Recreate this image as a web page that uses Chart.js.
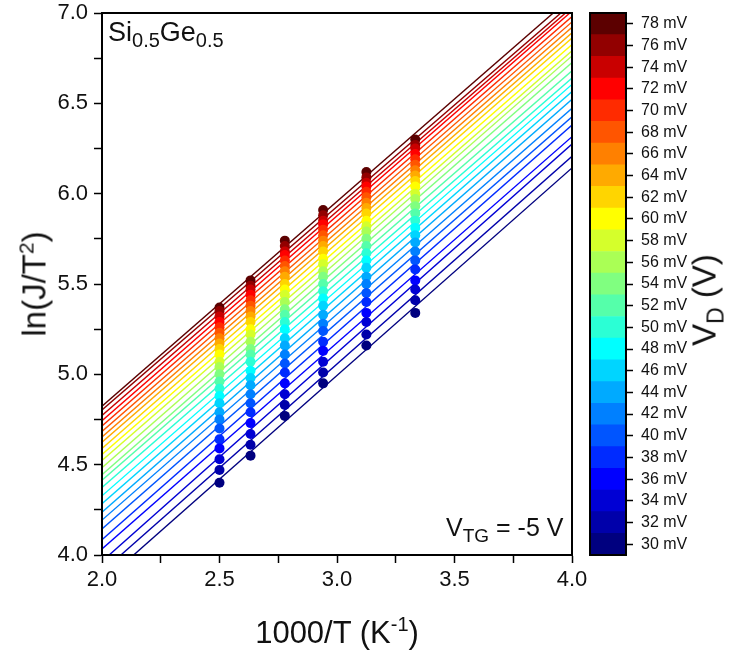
<!DOCTYPE html>
<html>
<head>
<meta charset="utf-8">
<title>ln(J/T2) vs 1000/T</title>
<script src="https://cdn.jsdelivr.net/npm/chart.js@4.4.1/dist/chart.umd.min.js"></script>
<style>
  html, body { margin: 0; padding: 0; background: #fff; }
  #wrap { position: relative; width: 741px; height: 655px; overflow: hidden;
          font-family: "Liberation Sans", Arial, sans-serif; color: #111; }
  #main { position: absolute; left: 0; top: 0; }
  #cbar { position: absolute; left: 580px; top: 0; }
  .txt { position: absolute; white-space: nowrap; line-height: 1; }
  .rot { transform: translate(-50%, -50%) rotate(-90deg); }
  .ctr { transform: translate(-50%, -50%); }
  sub, sup { line-height: 0; }
</style>
</head>
<body>
<div id="wrap">
  <canvas id="main" width="741" height="655"></canvas>
  <canvas id="cbar" width="161" height="655"></canvas>

  <div class="txt" style="left:108px; top:19px; font-size:27px;">Si<sub style="font-size:20px;">0.5</sub>Ge<sub style="font-size:20px;">0.5</sub></div>
  <div class="txt" style="left:446px; top:515px; font-size:25px;">V<sub style="font-size:19px;">TG</sub> = -5 V</div>
  <div class="txt rot" style="left:34px; top:284px; font-size:33px;">ln(J/T<sup style="font-size:21px;">2</sup>)</div>
  <div class="txt ctr" style="left:337px; top:632px; font-size:31px;">1000/T (K<sup style="font-size:20px;">-1</sup>)</div>
  <div class="txt rot" style="left:704px; top:300px; font-size:33px;">V<sub style="font-size:23px;">D</sub> (V)</div>
</div>

<script>
/* drain bias levels (mV), one line + one marker per temperature each */
const vdLevels = [30, 32, 34, 36, 38, 40, 42, 44, 46, 48, 50, 52, 54,
                  56, 58, 60, 62, 64, 66, 68, 70, 72, 74, 76, 78];

/* 1000/T for T = 400, 380, 360, 340, 320, 300 K */
const invT = [2.5, 2.632, 2.778, 2.941, 3.125, 3.333];

/* ln(J/T^2), ordered like vdLevels */
const lnJ400 = [4.40, 4.47, 4.53, 4.59, 4.64, 4.70, 4.75, 4.79, 4.84, 4.88, 4.92, 4.96, 5.00,
                5.04, 5.07, 5.11, 5.14, 5.17, 5.20, 5.23, 5.26, 5.29, 5.32, 5.35, 5.37];
const lnJ380 = [4.55, 4.61, 4.67, 4.73, 4.79, 4.84, 4.89, 4.94, 4.98, 5.02, 5.07, 5.11, 5.14,
                5.18, 5.22, 5.25, 5.29, 5.32, 5.35, 5.38, 5.41, 5.44, 5.47, 5.49, 5.52];
const lnJ360 = [4.77, 4.83, 4.89, 4.95, 5.01, 5.06, 5.11, 5.16, 5.20, 5.25, 5.29, 5.33, 5.36,
                5.40, 5.44, 5.47, 5.50, 5.54, 5.57, 5.60, 5.63, 5.66, 5.68, 5.71, 5.74];
const lnJ340 = [4.95, 5.01, 5.07, 5.13, 5.18, 5.24, 5.28, 5.33, 5.38, 5.42, 5.46, 5.50, 5.54,
                5.57, 5.61, 5.64, 5.68, 5.71, 5.74, 5.77, 5.80, 5.83, 5.85, 5.88, 5.91];
const lnJ320 = [5.16, 5.22, 5.29, 5.34, 5.40, 5.45, 5.50, 5.54, 5.59, 5.63, 5.67, 5.71, 5.75,
                5.79, 5.82, 5.85, 5.89, 5.92, 5.95, 5.98, 6.01, 6.04, 6.06, 6.09, 6.12];
const lnJ300 = [5.34, 5.41, 5.47, 5.52, 5.58, 5.63, 5.68, 5.73, 5.77, 5.81, 5.85, 5.89, 5.93,
                5.97, 6.00, 6.04, 6.07, 6.10, 6.13, 6.16, 6.19, 6.22, 6.25, 6.27, 6.30];

const columns = [lnJ400, lnJ380, lnJ360, lnJ340, lnJ320, lnJ300];

const FONT = "'Liberation Sans', Arial, sans-serif";
const INK = "#111";

/* jet-style colour per level index */
function jet(i) {
  var stops = [
    [0, [0, 0, 127]], [3, [0, 0, 255]], [9, [0, 255, 255]],
    [15, [255, 255, 0]], [21, [255, 0, 0]], [24, [92, 0, 0]]
  ];
  for (var s = 0; s < stops.length - 1; s++) {
    var a = stops[s], b = stops[s + 1];
    if (i >= a[0] && i <= b[0]) {
      var t = (i - a[0]) / (b[0] - a[0]);
      var c = a[1].map(function (v, k) { return Math.round(v + (b[1][k] - v) * t); });
      return "rgb(" + c.join(",") + ")";
    }
  }
  return "rgb(0,0,127)";
}

/* least-squares straight line through one bias level */
function fitLine(ys) {
  var n = invT.length, mx = 0, my = 0, sxy = 0, sxx = 0;
  for (var k = 0; k < n; k++) { mx += invT[k] / n; my += ys[k] / n; }
  for (k = 0; k < n; k++) {
    sxy += (invT[k] - mx) * (ys[k] - my);
    sxx += (invT[k] - mx) * (invT[k] - mx);
  }
  var m = sxy / sxx;
  return function (x) { return my + m * (x - mx); };
}

/* box round the plot area */
const frame = {
  id: "frame",
  afterDatasetsDraw: function (chart) {
    var a = chart.chartArea, ctx = chart.ctx;
    ctx.save();
    ctx.strokeStyle = "#000";
    ctx.lineWidth = 2;
    ctx.strokeRect(a.left, a.top, a.right - a.left, a.bottom - a.top);
    ctx.restore();
  }
};

/* keep the plot box where the padding puts it */
function noOverhangX(s) { s.height = 100; s.paddingLeft = 0; s.paddingRight = 0; }
function noOverhangY(w) {
  return function (s) { s.width = w; s.paddingTop = 0; s.paddingBottom = 0; };
}

/* ── main plot ──────────────────────────────────────────────── */
var pointSets = vdLevels.map(function (v, i) {
  return {
    type: "scatter",
    label: v + " mV",
    data: invT.map(function (x, k) { return { x: x, y: columns[k][i] }; }),
    backgroundColor: jet(i),
    borderColor: jet(i),
    borderWidth: 0,
    pointRadius: 5,
    order: 0
  };
});

var lineSets = vdLevels.map(function (v, i) {
  var f = fitLine(columns.map(function (col) { return col[i]; }));
  return {
    type: "line",
    label: v + " mV fit",
    data: [{ x: 2.0, y: f(2.0) }, { x: 4.0, y: f(4.0) }],
    borderColor: jet(i),
    borderWidth: 1.4,
    pointRadius: 0,
    fill: false,
    order: 1
  };
});

function halfStep(v) {
  return Math.abs(v * 2 - Math.round(v * 2)) < 1e-6 ? v.toFixed(1) : "";
}

new Chart(document.getElementById("main"), {
  type: "scatter",
  data: { datasets: pointSets.concat(lineSets) },
  options: {
    responsive: false,
    animation: false,
    events: [],
    layout: { padding: { left: 0, top: 13, right: 169, bottom: 0 } },
    plugins: { legend: { display: false }, tooltip: { enabled: false } },
    scales: {
      x: {
        type: "linear", min: 2, max: 4,
        ticks: {
          stepSize: 0.25, autoSkip: false, maxRotation: 0,
          color: INK, font: { family: FONT, size: 22 }, padding: 4,
          callback: halfStep
        },
        grid: { drawOnChartArea: false, tickLength: 8, tickWidth: 1.5, tickColor: "#000" },
        border: { color: "#000", width: 2 },
        afterFit: noOverhangX
      },
      y: {
        type: "linear", min: 4, max: 7,
        ticks: {
          stepSize: 0.25, autoSkip: false,
          color: INK, font: { family: FONT, size: 22 }, padding: 6,
          callback: halfStep
        },
        grid: { drawOnChartArea: false, tickLength: 8, tickWidth: 1.5, tickColor: "#000" },
        border: { color: "#000", width: 2 },
        afterFit: noOverhangY(102)
      }
    }
  },
  plugins: [frame]
});

/* ── colour bar ─────────────────────────────────────────────── */
new Chart(document.getElementById("cbar"), {
  type: "bar",
  data: {
    labels: [""],
    datasets: vdLevels.map(function (v, i) {
      return {
        label: v + " mV",
        data: [[v - 1, v + 1]],
        backgroundColor: jet(i),
        borderWidth: 0,
        grouped: false,
        barPercentage: 1,
        categoryPercentage: 1
      };
    })
  },
  options: {
    responsive: false,
    animation: false,
    events: [],
    layout: { padding: { left: 10, top: 13, right: 0, bottom: 100 } },
    plugins: { legend: { display: false }, tooltip: { enabled: false } },
    scales: {
      x: { display: false },
      y: {
        position: "right", min: 29, max: 79,
        afterBuildTicks: function (s) { s.ticks = vdLevels.map(function (v) { return { value: v }; }); },
        ticks: {
          autoSkip: false, color: INK, padding: 8,
          font: { family: FONT, size: 16 },
          callback: function (v) { return v + " mV"; }
        },
        grid: { drawOnChartArea: false, tickLength: 7, tickWidth: 1.5, tickColor: "#000" },
        border: { display: false },
        afterFit: noOverhangY(115)
      }
    }
  },
  plugins: [frame]
});
</script>
</body>
</html>
